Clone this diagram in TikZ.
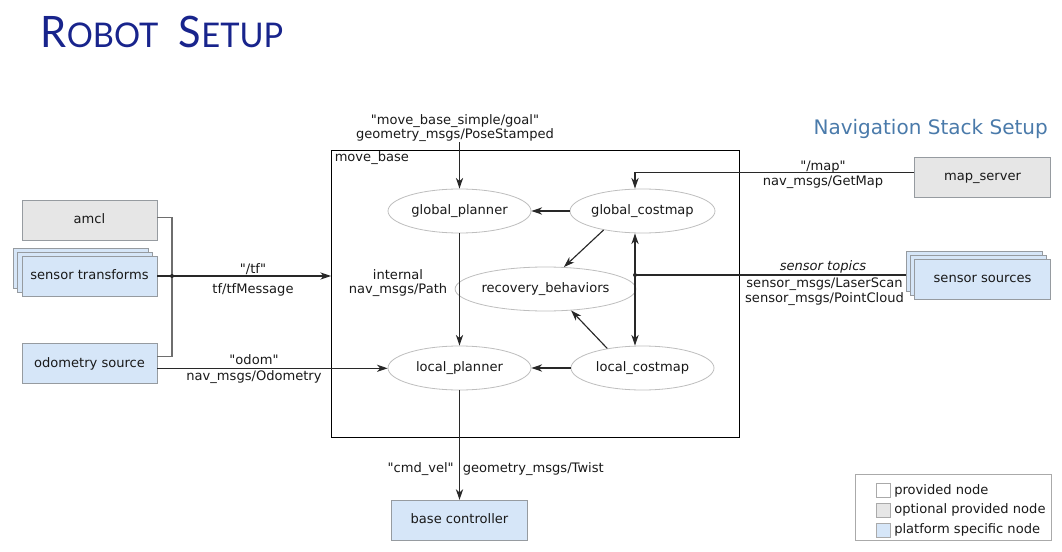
\documentclass[tikz,border=0pt]{standalone}
\usepackage{fontspec}
\setmainfont{DejaVu Sans}
\newfontfamily\titlefont{Lato}
\usetikzlibrary{arrows.meta,shapes.geometric,calc}
\newcommand\qd{\textquotedbl}
\definecolor{txt}{RGB}{25,25,25}
\definecolor{navy}{RGB}{24,36,140}
\definecolor{nblue}{RGB}{74,122,170}
\definecolor{ogray}{RGB}{230,230,230}
\definecolor{pblue}{RGB}{214,230,248}
\definecolor{bord}{RGB}{150,155,160}
\definecolor{egray}{RGB}{190,190,190}
\definecolor{lcol}{RGB}{40,40,40}
\definecolor{stub}{RGB}{110,110,110}
\definecolor{lgray}{RGB}{170,170,170}
\begin{document}
\begin{tikzpicture}[x=0.75pt,y=-0.75pt,
  every node/.style={text=txt, font=\fontsize{9.8}{11}\selectfont},
  box/.style={draw=bord, line width=0.6pt, minimum width=101.25pt, minimum height=30pt, inner sep=0pt, text height=7.5pt, text depth=2pt},
  optbox/.style={box, fill=ogray},
  platbox/.style={box, fill=pblue},
  ell/.style={ellipse, draw=egray, line width=0.6pt, fill=white, minimum width=107.25pt, minimum height=33pt, inner sep=0pt, text height=7.5pt, text depth=2pt},
  conn/.style={draw=lcol, line width=0.85pt},
  arr/.style={conn, -{Stealth[length=8pt,width=5.4pt,inset=2.4pt]}},
  lbl/.style={align=center, inner sep=0pt},
  single/.style={inner sep=0pt, text height=7.5pt, text depth=2pt},
  swatch/.style={draw=lgray, line width=0.5pt, minimum size=10.8pt, inner sep=0pt, anchor=north west},
]
\useasboundingbox (0,0) rectangle (1062,552);

% titles
\node[anchor=base west, inner sep=0pt, text=navy, font=\titlefont] (title) at (40.5,47.7)
  {\scalebox{0.96}[1]{{\fontsize{32.5}{34}\selectfont R}{\fontsize{25.5}{27}\selectfont OBOT}\hspace{16pt}{\fontsize{32.5}{34}\selectfont S}{\fontsize{25.5}{27}\selectfont ETUP}}};
\node[anchor=base east, inner sep=0pt, text=nblue, font=\fontsize{15}{15}\selectfont] (navtitle) at (1048,135) {Navigation Stack Setup};

% move_base container
\node[draw=black, line width=1.1pt, minimum width=306pt, minimum height=215.25pt, anchor=north west, inner sep=0pt] (mb) at (331,150) {};
\node[anchor=west, single] (mbl) at ($(mb.north west)+(3.5,8)$) {move\_base};

% left nodes
\node[optbox] (amcl) at (89.5,220) {amcl};
\node[platbox] (stb2) at (80.5,268) {};
\node[platbox] (stb1) at (85,272) {};
\node[platbox] (st) at (89.5,276) {sensor transforms};
\node[platbox] (od) at (89.5,363.5) {odometry source};

% right nodes
\node[optbox, minimum width=102pt] (ms) at (982.5,177) {map\_server};
\node[platbox, minimum width=102pt] (ssb2) at (974,271) {};
\node[platbox, minimum width=102pt] (ssb1) at (978.2,275) {};
\node[platbox, minimum width=102pt] (ss) at (982.5,279) {sensor sources};

% bottom
\node[platbox, minimum width=102pt] (bc) at (459.5,520.3) {base controller};

% ellipses
\node[ell] (gp) at (459.5,211) {global\_planner};
\node[ell] (gc) at (642.5,211) {global\_costmap};
\node[ell] (rb) at (545.5,289) {recovery\_behaviors};
\node[ell] (lp) at (459.5,368) {local\_planner};
\node[ell] (lc) at (642.5,368) {local\_costmap};

% labels
\node[lbl, font=\fontsize{9.8}{9}\selectfont] (gl) at (455,128) {\qd move\_base\_simple/goal\qd\\geometry\_msgs/PoseStamped};
\node[lbl, font=\fontsize{9.8}{15}\selectfont] (tfl) at (253,280) {\qd/tf\qd\\tf/tfMessage};
\node[lbl, font=\fontsize{9.8}{12}\selectfont] (odl) at (254,369) {\qd odom\qd\\nav\_msgs/Odometry};
\node[lbl, font=\fontsize{9.8}{10.5}\selectfont] (inl) at (398,283) {internal\\nav\_msgs/Path};
\node[lbl, font=\fontsize{9.8}{11.25}\selectfont] (mpl) at (823,174.5) {\qd/map\qd\\nav\_msgs/GetMap};
\node[single, font=\fontsize{9.8}{11}\selectfont\itshape] (stl) at (823,267) {sensor topics};
\node[lbl, font=\fontsize{9.8}{11.25}\selectfont] (sml) at (824.5,291.5) {sensor\_msgs/LaserScan\\sensor\_msgs/PointCloud};
\node[single, anchor=east] (cvl) at (454,469) {\qd cmd\_vel\qd};
\node[single, anchor=west] (gtl) at (462.5,469) {geometry\_msgs/Twist};

% connectors left
\coordinate (jx) at (172,276);
\coordinate (a1) at ($(amcl.east)+(0,-2.3)$);
\coordinate (o1) at ($(od.east)+(0,-6.8)$);
\draw[conn, draw=stub] (a1) -| (jx) |- (o1);
\draw[arr] (st.east) -- (st.east -| mb.west);
\fill[lcol] (jx) circle (2);
\coordinate (o2) at ($(od.east)+(0,4.8)$);
\draw[arr] (o2) -- (o2 -| lp.west);

% internal connectors
\draw[arr] (gl.south -| gp.north) -- (gp.north);
\draw[arr] (gp.south) -- (lp.north);
\draw[arr] (gc.west) -- (gp.east);
\draw[arr] (lc.west) -- (lp.east);
\draw[arr] (gc.206) -- (rb.50);
\draw[arr] (lc.151) -- (rb.320);
\coordinate (sj) at (635,275);
\draw[conn, {Stealth[length=8pt,width=5.4pt,inset=2.4pt]}-{Stealth[length=8pt,width=5.4pt,inset=2.4pt]}] (sj |- gc.south) -- (sj |- lc.north);
\coordinate (mi) at ($(ms.west)+(0,-4.5)$);
\draw[arr] (mi) -| (sj |- gc.north);
\draw[conn] (sj) -- (sj -| ssb2.west);
\fill[lcol] (sj) circle (2);
\draw[arr] (lp.south) -- (bc.north);

% legend
\node[draw=lgray, line width=0.6pt, minimum width=146.7pt, minimum height=49.5pt, anchor=north west, inner sep=0pt] (leg) at (855,474) {};
\node[swatch, fill=white] (sw1) at (876,483) {};
\node[swatch, fill=ogray] (sw2) at (876,502.7) {};
\node[swatch, fill=pblue] (sw3) at (876,523) {};
\node[single, anchor=west] (lt1) at (894,490.7) {provided node};
\node[single, anchor=west] (lt2) at (894,510) {optional provided node};
\node[single, anchor=west] (lt3) at (894,530) {platform specific node};
\end{tikzpicture}
\end{document}
